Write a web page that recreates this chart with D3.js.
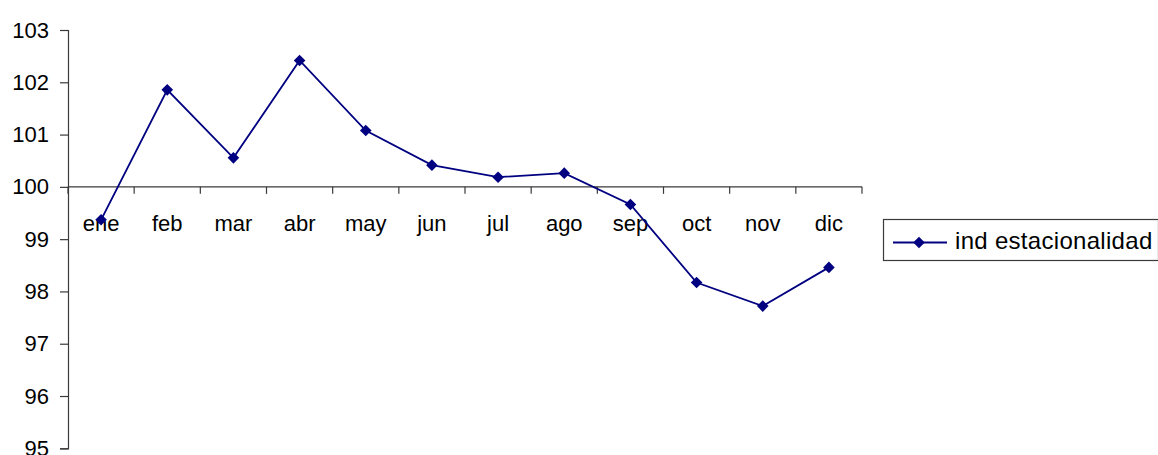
<!DOCTYPE html>
<html>
<head>
<meta charset="utf-8">
<script src="https://cdn.jsdelivr.net/npm/d3@7"></script>
<style>
  html, body { margin: 0; padding: 0; background: #fff; }
  svg { display: block; font-family: "Liberation Sans", Arial, sans-serif; }
</style>
</head>
<body>
<svg id="chart" width="1158" height="455"></svg>
<script>
// Monthly seasonal index
const months = ["ene", "feb", "mar", "abr", "may", "jun", "jul", "ago", "sep", "oct", "nov", "dic"];
const seasonalIndex = [99.37, 101.855, 100.555, 102.417, 101.078, 100.415, 100.185, 100.262, 99.663, 98.17, 97.72, 98.46];
const yTicks = [95, 96, 97, 98, 99, 100, 101, 102, 103];
const seriesName = "ind estacionalidad";

const svg = d3.select("#chart");
const navy = "#000080";
const axisColor = "#3a3a3a";

const plotLeft = 68, plotRight = 862, plotTop = 30, plotBottom = 448.3;

const x = d3.scaleBand().domain(months).range([plotLeft, plotRight]).paddingInner(0).paddingOuter(0);
const y = d3.scaleLinear().domain([95, 103]).range([plotBottom, plotTop]);

// Vertical value axis
const yAxis = d3.axisLeft(y).tickValues(yTicks).tickSize(8).tickPadding(11).tickFormat(d3.format("d"));
const gy = svg.append("g").attr("transform", `translate(${plotLeft},0)`).call(yAxis);
gy.select(".domain").attr("stroke", axisColor).attr("stroke-width", 1.2);
gy.selectAll(".tick line").attr("stroke", axisColor).attr("stroke-width", 1.2);
gy.selectAll(".tick text").attr("font-size", 22).attr("fill", "#000")
  .attr("font-family", "'Liberation Sans', Arial, sans-serif");

// Category axis crossing at 100
const y100 = y(100);
const gx = svg.append("g").attr("transform", `translate(0,${y100})`);
gx.append("line").attr("x1", plotLeft).attr("x2", plotRight).attr("y1", 0).attr("y2", 0)
  .attr("stroke", axisColor).attr("stroke-width", 1.2);
const boundaries = months.map(m => x(m)).concat([plotRight]);
gx.selectAll("line.tk").data(boundaries).enter().append("line").attr("class", "tk")
  .attr("x1", d => d).attr("x2", d => d).attr("y1", 0).attr("y2", 7)
  .attr("stroke", axisColor).attr("stroke-width", 1.2);
gx.selectAll("text").data(months).enter().append("text")
  .attr("x", d => x(d) + x.bandwidth() / 2)
  .attr("y", 44)
  .attr("text-anchor", "middle")
  .attr("font-size", 22)
  .attr("fill", "#000")
  .text(d => d);

// Series line
const pts = months.map((m, i) => [x(m) + x.bandwidth() / 2, y(seasonalIndex[i])]);
svg.append("path")
  .attr("d", d3.line()(pts))
  .attr("fill", "none")
  .attr("stroke", navy)
  .attr("stroke-width", 1.8);

const diamond = r => `M0,${-r}L${r},0L0,${r}L${-r},0Z`;
svg.selectAll("path.mk").data(pts).enter().append("path").attr("class", "mk")
  .attr("transform", d => `translate(${d[0]},${d[1]})`)
  .attr("d", diamond(5.8))
  .attr("fill", navy);

// Legend
const lg = svg.append("g");
lg.append("rect").attr("x", 883.5).attr("y", 219.5).attr("width", 275).attr("height", 41)
  .attr("fill", "#fff").attr("stroke", axisColor).attr("stroke-width", 1.2);
lg.append("line").attr("x1", 893).attr("x2", 947).attr("y1", 242.5).attr("y2", 242.5)
  .attr("stroke", navy).attr("stroke-width", 1.8);
lg.append("path").attr("transform", "translate(919,242.5)").attr("d", diamond(5.8)).attr("fill", navy);
lg.append("text").attr("x", 955).attr("y", 249).attr("font-size", 24)
  .attr("letter-spacing", 0.3).attr("fill", "#000").text(seriesName);
</script>
</body>
</html>
